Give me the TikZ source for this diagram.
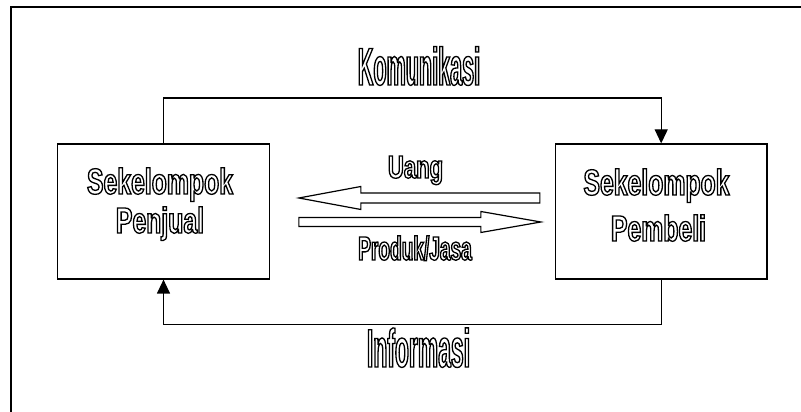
\documentclass[tikz,border=0pt]{standalone}
\usepackage{fontspec}
\setmainfont{Liberation Sans}
\usetikzlibrary{arrows.meta,positioning,calc}

% hollow (outlined) letters
\newcommand{\hollow}[1]{\special{pdf:literal direct 1 Tr 1.3 w}#1\special{pdf:literal direct 0 Tr}}
% condensed bold font of a given size
\newcommand{\narrowfont}[2]{\fontsize{#1}{#1}\selectfont\bfseries\addfontfeatures{FakeStretch=#2}}

\begin{document}
\begin{tikzpicture}[
    x=1pt, y=1pt,
    node distance=285pt,
    party/.style={rectangle, draw, line width=1.2pt, minimum width=211.5pt, minimum height=135pt, inner sep=0pt},
    boxtext/.style={anchor=base, inner sep=0pt, font=\narrowfont{36.3}{0.683}},
    flowtext/.style={anchor=base, inner sep=0pt},
    line/.style={draw, line width=1.2pt},
    blok/.style={draw, line width=1.2pt, fill=white, line join=miter},
    >={Triangle[width=13pt,length=14pt]}
]
\useasboundingbox (0,0) rectangle (801,412);
% frame
\draw[line width=2pt] (11,0) |- (801,405);

% Parties
\node[party] (penjual) at (163.5,200.5) {};
\node[party, right=of penjual] (pembeli) {};
\node[boxtext] (penjualA) at (160,218) {\hollow{Sekelompok}};
\node[boxtext] (penjualB) at (160,179) {\hollow{Penjual}};
\node[boxtext] (pembeliA) at (656.5,217) {\hollow{Sekelompok}};
\node[boxtext] (pembeliB) at (658.5,171) {\hollow{Pembeli}};

% Communication loop
\path[line,->] (penjual.north) -- ++(0,45.3) -| (pembeli.north);
\path[line,->] (pembeli.south) -- ++(0,-45) -| (penjual.south);
\node[flowtext, font=\narrowfont{53}{0.407}] (komunikasi) at (419,327) {\hollow{Komunikasi}};
\node[flowtext, font=\narrowfont{54}{0.424}] (informasi) at (418.5,45) {\hollow{Informasi}};

% Money and goods
\coordinate (uangB) at ($(penjual.east)+(29,13.5)$);
\coordinate (produkB) at ($(pembeli.west)+(-14,-10.5)$);
\draw[blok] (uangB) -- ++(62,11.5) -- ++(0,-6.5) -- ++(179,0) -- ++(0,-10) -- ++(-179,0) -- ++(0,-6.5) -- cycle;
\draw[blok] (produkB) -- ++(-60,10.5) -- ++(0,-6) -- ++(-182,0) -- ++(0,-9) -- ++(182,0) -- ++(0,-6) -- cycle;
\node[flowtext, font=\narrowfont{32}{0.69}] (uang) at (415.5,234) {\hollow{Uang}};
\node[flowtext, font=\narrowfont{33.5}{0.57}] (produk) at (415,152) {\hollow{Produk/Jasa}};

\end{tikzpicture}
\end{document}
